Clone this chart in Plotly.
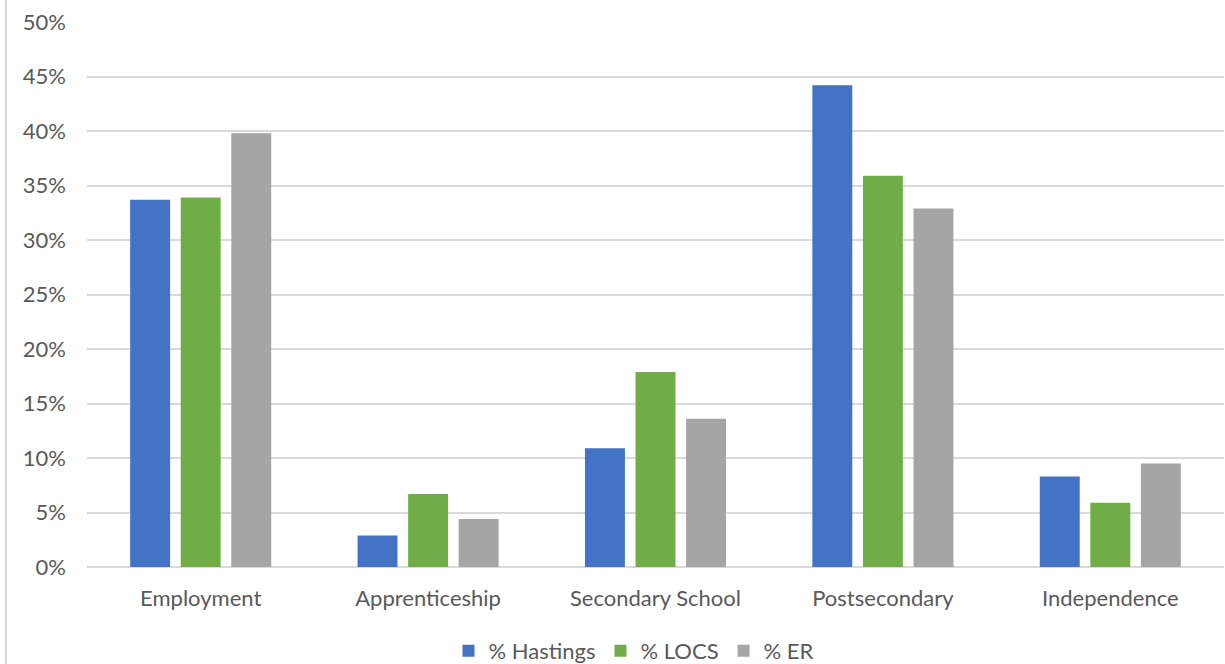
import plotly.graph_objects as go

categories = ["Employment", "Apprenticeship", "Secondary School", "Postsecondary", "Independence"]
hastings = [33.7, 2.9, 10.9, 44.2, 8.3]
locs = [33.9, 6.7, 17.9, 35.9, 5.9]
er = [39.8, 4.4, 13.6, 32.9, 9.5]
series_names = ["% Hastings", "% LOCS", "% ER"]
colors = ["#4472C4", "#70AD47", "#A5A5A5"]
y_ticks = [0, 5, 10, 15, 20, 25, 30, 35, 40, 45, 50]
y_tick_labels = ["0%", "5%", "10%", "15%", "20%", "25%", "30%", "35%", "40%", "45%", "50%"]

fig = go.Figure()
for name, vals, col in zip(series_names, [hastings, locs, er], colors):
    fig.add_trace(go.Bar(x=categories, y=vals, name=name, marker=dict(color=col, line=dict(width=0))))

W, H = 1225, 664
L, R, T, B = 87, 1, 22, 97
fig.update_layout(
    width=W, height=H,
    margin=dict(l=L, r=R, t=T, b=B),
    paper_bgcolor="white", plot_bgcolor="white",
    barmode="group", bargap=0.333, bargroupgap=0.21,
    font=dict(family="Lato, Open Sans, sans-serif", size=22, color="#595959"),
    legend=dict(orientation="h", x=(634 - L) / (W - L - R), xanchor="center", xref="paper",
                yref="container", y=(H - 651) / H, yanchor="middle",
                font=dict(size=22, color="#595959"), itemwidth=30, traceorder="normal"),
    xaxis=dict(showgrid=False, showline=False, ticks="", ticklabelstandoff=16, automargin=False),
    yaxis=dict(range=[0, 50], tickvals=y_ticks, ticktext=y_tick_labels, showgrid=True,
               gridcolor="#D9D9D9", gridwidth=1.5, zeroline=True, zerolinecolor="#D9D9D9",
               zerolinewidth=1.5, showline=False, ticks="", ticklabelstandoff=20, automargin=False),
)
fig.add_shape(type="line", xref="paper", yref="paper",
              x0=(6 - L) / (W - L - R), x1=(6 - L) / (W - L - R),
              y0=-B / (H - T - B), y1=(H - B + 60) / (H - T - B),
              line=dict(color="#D9D9D9", width=2))
fig.write_html("out.html")
